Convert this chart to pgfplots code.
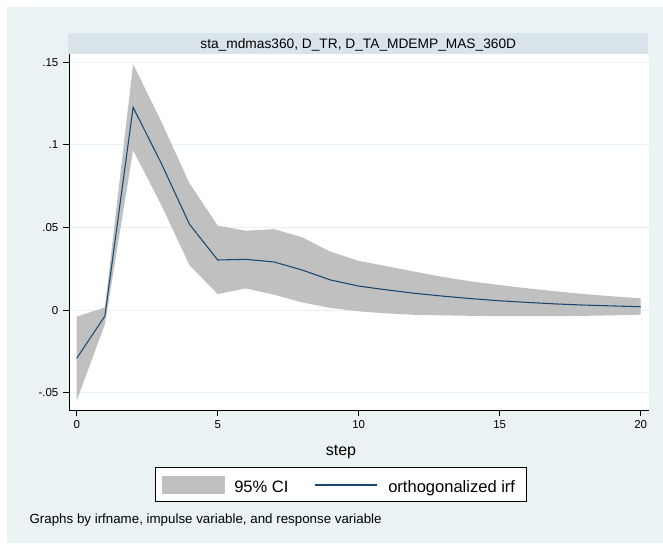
\documentclass[border=0pt]{standalone}
\usepackage{pgfplots}
\pgfplotsset{compat=1.18}
\usepackage{pgfplotstable}
\usepackage{fontspec}
\setmainfont{Liberation Sans}
\definecolor{bgcol}{RGB}{234,242,243}
\definecolor{stripcol}{RGB}{217,229,234}
\definecolor{gridcol}{RGB}{232,240,242}
\definecolor{cigray}{RGB}{192,192,192}
\definecolor{irfnavy}{RGB}{26,71,111}
\pgfplotstableread{
step irf
0 -0.0292
1 -0.0036
2 0.1227
3 0.0888
4 0.0519
5 0.0303
6 0.0307
7 0.0291
8 0.0242
9 0.0182
10 0.0145
11 0.0122
12 0.0101
13 0.0084
14 0.0069
15 0.0056
16 0.0046
17 0.0037
18 0.0030
19 0.0025
20 0.0020
}\irfdata
% 95% CI band: upper bound for steps 0..20, then lower bound for steps 20..0
\pgfplotstableread{
step ci
0 -0.0040
1 0.0016
2 0.1489
3 0.1140
4 0.0767
5 0.0511
6 0.0480
7 0.0490
8 0.0440
9 0.0353
10 0.0298
11 0.0265
12 0.0232
13 0.0200
14 0.0173
15 0.0151
16 0.0131
17 0.0113
18 0.0097
19 0.0083
20 0.0071
20 -0.0028
19 -0.0032
18 -0.0035
17 -0.0037
16 -0.0037
15 -0.0037
14 -0.0035
13 -0.0032
12 -0.0029
11 -0.0020
10 -0.0008
9 0.0013
8 0.0046
7 0.0093
6 0.0131
5 0.0097
4 0.0271
3 0.0636
2 0.0967
1 -0.0086
0 -0.0549
}\cidata
\begin{document}
\begin{tikzpicture}
% page and background
\fill[white] (0pt,0pt) rectangle (497.25pt,407.25pt);
\fill[bgcol] (5.25pt,0pt) rectangle (497.25pt,402pt);
% title strip
\fill[stripcol] (51.2pt,366.75pt) rectangle (486.2pt,382.3pt);
\node[anchor=base,font=\fontsize{10.3}{12}\selectfont] at (268.7pt,370.5pt) {sta\_mdmas360, D\_TR, D\_TA\_MDEMP\_MAS\_360D};
\begin{axis}[
  at={(51.75pt,99.75pt)}, anchor=south west,
  scale only axis, width=435pt, height=267pt,
  xmin=-0.273, xmax=20.294, ymin=-0.0605, ymax=0.155,
  axis background/.style={fill=white},
  axis x line*=bottom, axis y line*=left,
  axis line style={black, line width=0.7pt, -},
  tick align=outside, major tick length=4.5pt,
  tick style={black, line width=0.6pt},
  xtick={0,5,10,15,20}, xticklabels={0,5,10,15,20},
  ytick={-0.05,0,0.05,0.1,0.15}, yticklabels={-.05,0,.05,.1,.15},
  /pgf/number format/assume math mode=true,
  ticklabel style={font=\fontsize{8.6}{10}\selectfont},
  ymajorgrids, grid style={gridcol, line width=0.8pt},
  clip=false,
]
\addplot[fill=cigray, draw=none] table[x=step,y=ci]{\cidata} -- cycle;
\addplot[irfnavy, line width=0.8pt] table[x=step,y=irf]{\irfdata};
\end{axis}
% x label
\node[anchor=base,font=\fontsize{12}{14}\selectfont] at (255.75pt,66pt) {step};
% legend
\draw[black, line width=0.6pt, fill=white] (116.25pt,31pt) rectangle (394.7pt,56.5pt);
\fill[cigray] (121.5pt,36.5pt) rectangle (168.75pt,50.5pt);
\node[anchor=base west,inner sep=0pt,font=\fontsize{12.4}{14}\selectfont] at (175.5pt,37.7pt) {95\% CI};
\draw[irfnavy, line width=0.8pt] (236.25pt,43.5pt) -- (282.75pt,43.5pt);
\node[anchor=base west,inner sep=0pt,font=\fontsize{12.4}{14}\selectfont] at (291pt,37.7pt) {orthogonalized irf};
% note
\node[anchor=base west,inner sep=0pt,font=\fontsize{10}{12}\selectfont] at (22pt,15pt) {Graphs by irfname, impulse variable, and response variable};
\end{tikzpicture}
\end{document}
